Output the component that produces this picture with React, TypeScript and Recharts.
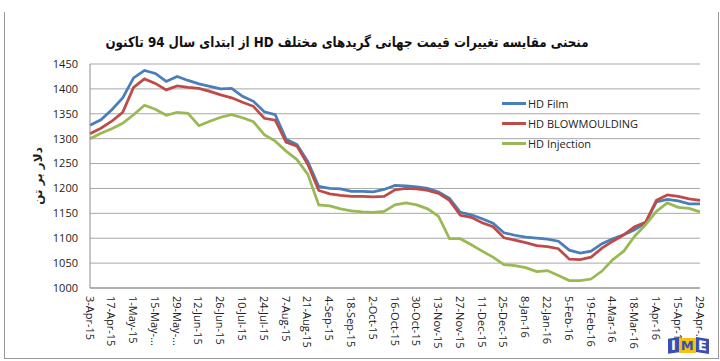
import { CartesianGrid, Line, LineChart, XAxis, YAxis } from "recharts"

const weeks = [
  "3-Apr-15", "10-Apr-15", "17-Apr-15", "24-Apr-15", "1-May-15", "8-May-15", "15-May-15", "22-May-15",
  "29-May-15", "5-Jun-15", "12-Jun-15", "19-Jun-15", "26-Jun-15", "3-Jul-15", "10-Jul-15", "17-Jul-15",
  "24-Jul-15", "31-Jul-15", "7-Aug-15", "14-Aug-15", "21-Aug-15", "28-Aug-15", "4-Sep-15", "11-Sep-15",
  "18-Sep-15", "25-Sep-15", "2-Oct-15", "9-Oct-15", "16-Oct-15", "23-Oct-15", "30-Oct-15", "6-Nov-15",
  "13-Nov-15", "20-Nov-15", "27-Nov-15", "4-Dec-15", "11-Dec-15", "18-Dec-15", "25-Dec-15", "1-Jan-16",
  "8-Jan-16", "15-Jan-16", "22-Jan-16", "29-Jan-16", "5-Feb-16", "12-Feb-16", "19-Feb-16", "26-Feb-16",
  "4-Mar-16", "11-Mar-16", "18-Mar-16", "25-Mar-16", "1-Apr-16", "8-Apr-16", "15-Apr-16", "22-Apr-16",
  "29-Apr-16",
]

const film = [
  1327, 1338, 1358, 1382, 1422, 1437, 1431, 1415, 1425, 1417, 1410, 1405, 1400, 1401, 1385, 1375,
  1354, 1348, 1299, 1288, 1254, 1204, 1200, 1199, 1194, 1194, 1193, 1198, 1206, 1205, 1203, 1200,
  1193, 1180, 1152, 1147, 1139, 1130, 1111, 1106, 1102, 1100, 1098, 1094, 1076, 1070, 1074, 1089,
  1099, 1107, 1117, 1131, 1173, 1178, 1175, 1169, 1169,
]

const blowmoulding = [
  1310, 1321, 1335, 1353, 1403, 1420, 1411, 1398, 1406, 1403, 1401, 1395, 1388, 1382, 1373, 1365,
  1341, 1337, 1293, 1285, 1248, 1196, 1189, 1186, 1184, 1184, 1183, 1184, 1197, 1200, 1199, 1196,
  1190, 1176, 1146, 1142, 1131, 1123, 1101, 1096, 1091, 1085, 1083, 1079, 1058, 1057, 1062, 1080,
  1094, 1107, 1123, 1132, 1176, 1187, 1184, 1179, 1176,
]

const injection = [
  1300, 1311, 1320, 1331, 1348, 1367, 1359, 1347, 1353, 1351, 1326, 1335, 1343, 1348, 1342, 1334,
  1308, 1295, 1275, 1258, 1228, 1167, 1165, 1159, 1155, 1153, 1152, 1154, 1167, 1171, 1167, 1159,
  1144, 1099, 1099, 1087, 1074, 1062, 1047, 1045, 1041, 1033, 1035, 1025, 1015, 1015, 1018, 1034,
  1057, 1074, 1104, 1127, 1154, 1171, 1162, 1160, 1153,
]

const yTicks = [1000, 1050, 1100, 1150, 1200, 1250, 1300, 1350, 1400, 1450]

// labels Excel cut short for lack of room
const truncated = ["15-May-15", "29-May-15", "29-Apr-16"]

const series = [
  { key: "film", name: "HD Film", color: "#4a7ebb" },
  { key: "blow", name: "HD BLOWMOULDING", color: "#be4b48" },
  { key: "inj", name: "HD Injection", color: "#98b954" },
]

const data = weeks.map((w, i) => ({
  name: w,
  film: film[i],
  blow: blowmoulding[i],
  inj: injection[i],
}))

const tickFont = "'Open Sans', 'Liberation Sans', sans-serif"

// eslint-disable-next-line @typescript-eslint/no-explicit-any
const DateTick = ({ x, y, payload }: any) => {
  const v: string = payload.value
  const label = truncated.includes(v) ? v.slice(0, 7) + "..." : v
  return (
    <text
      x={x}
      y={y}
      transform={`rotate(90 ${x} ${y})`}
      textAnchor="start"
      dominantBaseline="central"
      fontSize={11}
      fontFamily={tickFont}
      fill="#222"
    >
      {label}
    </text>
  )
}

export default function App() {
  return (
    <div style={{ position: "absolute", left: 0, top: 0, width: 720, height: 361, background: "#fff" }}>
      {/* frame */}
      <div style={{ position: "absolute", left: 4, top: 12, width: 713, height: 346, borderLeft: "1px solid #999", borderRight: "1px solid #999", borderBottom: "1px solid #999" }} />
      <div
        dir="rtl"
        style={{
          position: "absolute",
          left: 0,
          width: 694,
          top: 34,
          textAlign: "center",
          fontFamily: "'DejaVu Sans', sans-serif",
          fontWeight: "bold",
          fontSize: 14,
          color: "#111",
          transform: "scaleX(0.85)",
        }}
      >
        منحنی مقایسه تغییرات قیمت جهانی گریدهای مختلف HD از ابتدای سال 94 تاکنون
      </div>
      <div
        dir="rtl"
        style={{
          position: "absolute",
          left: 38,
          top: 176,
          transform: "translate(-50%, -50%) rotate(-90deg)",
          whiteSpace: "nowrap",
          fontFamily: "'DejaVu Sans', sans-serif",
          fontWeight: "bold",
          fontSize: 12,
          color: "#222",
        }}
      >
        دلار بر تن
      </div>
      <LineChart width={720} height={361} data={data} margin={{ top: 64, right: 20, bottom: 3, left: 40 }}>
        <CartesianGrid horizontal vertical={false} stroke="#a8a8a8" strokeWidth={1} />
        <XAxis
          dataKey="name"
          interval={1}
          height={70}
          tick={<DateTick />}
          tickLine={false}
          axisLine={{ stroke: "#8c8c8c" }}
        />
        <YAxis
          width={50}
          domain={[1000, 1450]}
          ticks={yTicks}
          tickLine={false}
          tickMargin={6}
          axisLine={{ stroke: "#8c8c8c" }}
          tick={{ fontSize: 11, fill: "#222", fontFamily: tickFont }}
        />
        {series.map((s) => (
          <Line
            key={s.key}
            type="linear"
            dataKey={s.key}
            name={s.name}
            stroke={s.color}
            strokeWidth={2.75}
            dot={false}
            isAnimationActive={false}
          />
        ))}
      </LineChart>
      {/* legend */}
      <div style={{ position: "absolute", left: 502, top: 93, fontFamily: tickFont, fontSize: 11, color: "#222" }}>
        {series.map((s) => (
          <div key={s.key} style={{ display: "flex", alignItems: "center", height: 20 }}>
            <span style={{ display: "inline-block", width: 24, height: 3, background: s.color, marginRight: 2 }} />
            <span>{s.name}</span>
          </div>
        ))}
      </div>
      {/* IME mark */}
      <div style={{ position: "absolute", left: 668, top: 338, display: "flex", fontFamily: "'DejaVu Sans', sans-serif", fontWeight: "bold", fontSize: 13 }}>
        <span style={{ background: "#3b4fb0", color: "#fff", padding: "0 3px", transform: "skewY(-8deg)" }}>I</span>
        <span style={{ background: "#f2c21b", color: "#3b4fb0", padding: "0 2px" }}>M</span>
        <span style={{ background: "#3b4fb0", color: "#fff", padding: "0 2px", transform: "skewY(8deg)" }}>E</span>
      </div>
    </div>
  )
}
